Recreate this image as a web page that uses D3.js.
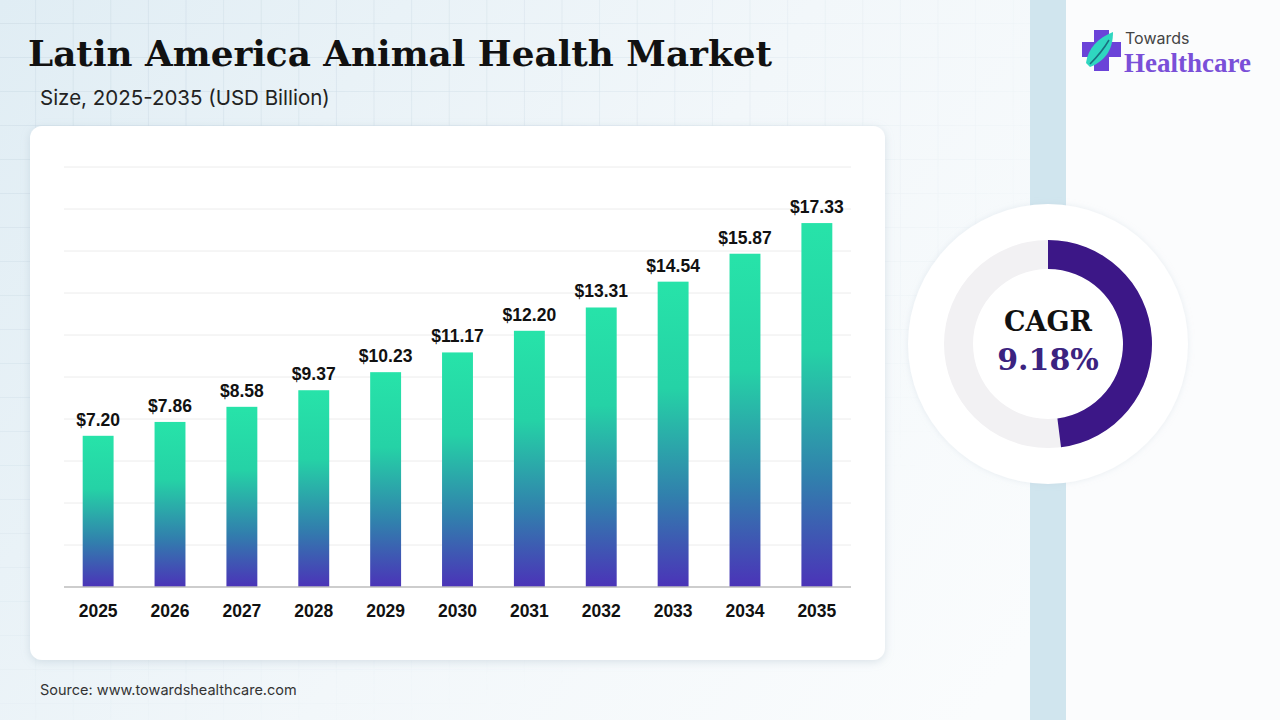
<!DOCTYPE html>
<html>
<head>
<meta charset="utf-8">
<script src="https://cdn.jsdelivr.net/npm/d3@7"></script>
<style>
  html, body { margin: 0; padding: 0; background: #fff; }
  svg { display: block; }
</style>
</head>
<body>
<svg id="chart" width="1280" height="720"></svg>
<script>
// data
const years = ['2025', '2026', '2027', '2028', '2029', '2030', '2031', '2032', '2033', '2034', '2035']
const values = [7.20, 7.86, 8.58, 9.37, 10.23, 11.17, 12.20, 13.31, 14.54, 15.87, 17.33]
const gridTicks = [0, 2, 4, 6, 8, 10, 12, 14, 16, 18, 20]
const cagr = 9.18
const cagrShare = 0.48

const W = 1280, H = 720
const svg = d3.select('#chart')
const defs = svg.append('defs')

//
// background
//
const bgGrad = defs.append('linearGradient').attr('id', 'bg').attr('x1', 0).attr('y1', 0).attr('x2', 1).attr('y2', 0.4)
bgGrad.append('stop').attr('offset', '0%').attr('stop-color', '#e0edf4')
bgGrad.append('stop').attr('offset', '55%').attr('stop-color', '#f2f7fa')
bgGrad.append('stop').attr('offset', '100%').attr('stop-color', '#fafcfd')
svg.append('rect').attr('width', W).attr('height', H).attr('fill', 'url(#bg)')

const gridPat = defs.append('pattern').attr('id', 'gridpat').attr('patternUnits', 'userSpaceOnUse')
  .attr('x', -1.5).attr('y', -10).attr('width', 37.6).attr('height', 34)
gridPat.append('path').attr('d', 'M37.6 0V34M0 34H37.6').attr('stroke', '#c9d9e4').attr('stroke-width', 1).attr('fill', 'none')
const fade = defs.append('radialGradient').attr('id', 'fade').attr('cx', 0).attr('cy', 0).attr('r', 1.1)
fade.append('stop').attr('offset', '0%').attr('stop-color', '#fff').attr('stop-opacity', 1)
fade.append('stop').attr('offset', '55%').attr('stop-color', '#fff').attr('stop-opacity', 0.6)
fade.append('stop').attr('offset', '100%').attr('stop-color', '#fff').attr('stop-opacity', 0)
defs.append('mask').attr('id', 'gridmask').append('rect').attr('width', 1030).attr('height', H).attr('fill', 'url(#fade)')
svg.append('rect').attr('width', 1030).attr('height', H).attr('fill', 'url(#gridpat)').attr('mask', 'url(#gridmask)')

// right panel + strip
svg.append('rect').attr('x', 1066).attr('width', W - 1066).attr('height', H).attr('fill', '#fbfcfd')
svg.append('rect').attr('x', 1030).attr('width', 36).attr('height', H).attr('fill', '#d0e5ee')

//
// titles
//
svg.append('text').attr('x', 28).attr('y', 66)
  .attr('font-family', 'DejaVu Serif, serif').attr('font-weight', 'bold').attr('font-size', 35.8)
  .attr('fill', '#111').text('Latin America Animal Health Market')
svg.append('text').attr('x', 40).attr('y', 105)
  .attr('font-family', 'Inter, Roboto, sans-serif').attr('font-size', 20.5)
  .attr('fill', '#222').text('Size, 2025-2035 (USD Billion)')
svg.append('text').attr('x', 40).attr('y', 695)
  .attr('font-family', 'Inter, Roboto, sans-serif').attr('font-size', 14.5)
  .attr('fill', '#333').text('Source: www.towardshealthcare.com')

//
// card
//
const shadow = defs.append('filter').attr('id', 'shadow').attr('x', -0.1).attr('y', -0.1).attr('width', 1.2).attr('height', 1.2)
shadow.append('feDropShadow').attr('dx', 0).attr('dy', 2).attr('stdDeviation', 4).attr('flood-color', '#9fb3c2').attr('flood-opacity', 0.35)
svg.append('rect').attr('x', 30).attr('y', 126).attr('width', 855).attr('height', 534).attr('rx', 12)
  .attr('fill', '#fff').attr('filter', 'url(#shadow)')

//
// bar chart
//
const plot = { left: 64, right: 851, top: 167, bottom: 587 }
const x = d3.scaleBand().domain(years).range([plot.left, plot.right]).paddingInner(0.57).paddingOuter(0.26)
const y = d3.scaleLinear().domain([0, 20]).range([plot.bottom, plot.top])

const g = svg.append('g')
g.append('g').selectAll('line').data(gridTicks.slice(1)).join('line')
  .attr('x1', plot.left).attr('x2', plot.right)
  .attr('y1', d => y(d)).attr('y2', d => y(d))
  .attr('stroke', '#ececec').attr('stroke-width', 1)

const barGrad = defs.append('linearGradient').attr('id', 'barGrad').attr('x1', 0).attr('y1', 0).attr('x2', 0).attr('y2', 1)
barGrad.append('stop').attr('offset', '0%').attr('stop-color', '#27e3a9')
barGrad.append('stop').attr('offset', '35%').attr('stop-color', '#25d2a6')
barGrad.append('stop').attr('offset', '70%').attr('stop-color', '#3180ad')
barGrad.append('stop').attr('offset', '100%').attr('stop-color', '#4b33b8')

const bars = years.map((yr, i) => ({ year: yr, value: values[i] }))
g.append('g').selectAll('rect').data(bars).join('rect')
  .attr('x', d => x(d.year)).attr('width', x.bandwidth())
  .attr('y', d => y(d.value)).attr('height', d => y(0) - y(d.value))
  .attr('fill', 'url(#barGrad)')

g.append('g').selectAll('text').data(bars).join('text')
  .attr('x', d => x(d.year) + x.bandwidth() / 2).attr('y', d => y(d.value) - 10)
  .attr('text-anchor', 'middle')
  .attr('font-family', 'Liberation Sans, Arial, sans-serif').attr('font-weight', 'bold').attr('font-size', 17.5)
  .attr('fill', '#111').text(d => '$' + d.value.toFixed(2))

const xAxis = g.append('g').attr('transform', `translate(0,${plot.bottom})`)
  .call(d3.axisBottom(x).tickSize(0).tickPadding(18))
xAxis.select('.domain').attr('stroke', '#bdbdbd').attr('stroke-width', 1.5)
  .attr('d', `M${plot.left},0H${plot.right}`)
xAxis.selectAll('text')
  .attr('font-family', 'Liberation Sans, Arial, sans-serif').attr('font-weight', 'bold').attr('font-size', 17.5)
  .attr('fill', '#111')

//
// CAGR donut
//
const cx = 1048, cy = 344
const dg = svg.append('g').attr('transform', `translate(${cx},${cy})`)
const softShadow = defs.append('filter').attr('id', 'soft').attr('x', -0.2).attr('y', -0.2).attr('width', 1.4).attr('height', 1.4)
softShadow.append('feDropShadow').attr('dx', 0).attr('dy', 0).attr('stdDeviation', 3).attr('flood-color', '#b9c8d4').attr('flood-opacity', 0.3)
dg.append('circle').attr('r', 140).attr('fill', '#fff').attr('filter', 'url(#soft)')
const arc = d3.arc().innerRadius(75).outerRadius(104)
dg.append('path').attr('d', arc({ startAngle: 0, endAngle: 2 * Math.PI })).attr('fill', '#f2f1f3')
dg.append('path').attr('d', arc({ startAngle: 0, endAngle: 2 * Math.PI * cagrShare })).attr('fill', '#3c1787')
dg.append('text').attr('y', -13).attr('text-anchor', 'middle')
  .attr('font-family', 'DejaVu Serif, serif').attr('font-weight', 'bold').attr('font-size', 27)
  .attr('fill', '#111').text('CAGR')
dg.append('text').attr('y', 26).attr('text-anchor', 'middle')
  .attr('font-family', 'DejaVu Serif, serif').attr('font-weight', 'bold').attr('font-size', 30)
  .attr('fill', '#3b2380').text(cagr.toFixed(2) + '%')

//
// logo
//
const logo = svg.append('g').attr('transform', 'translate(1082,30)')
logo.append('path').attr('d', 'M12 0H27V12H39V27H27V41H12V27H0V12H12Z').attr('fill', '#6b43d8')
logo.append('path').attr('d', 'M4 33C6 18 16 8 31 2C31 18 25 30 8 37Z').attr('fill', '#2fd6c0')
logo.append('path').attr('d', 'M8 34C14 28 20 22 27 10').attr('stroke', '#1a6f80').attr('stroke-width', 1.5).attr('fill', 'none')
logo.append('text').attr('x', 43).attr('y', 14)
  .attr('font-family', 'Inter, Roboto, sans-serif').attr('font-size', 16).attr('fill', '#444').text('Towards')
logo.append('text').attr('x', 42).attr('y', 42)
  .attr('font-family', 'Liberation Serif, serif').attr('font-weight', 'bold').attr('font-size', 27).attr('fill', '#7a4fd8').text('Healthcare')
</script>
</body>
</html>
